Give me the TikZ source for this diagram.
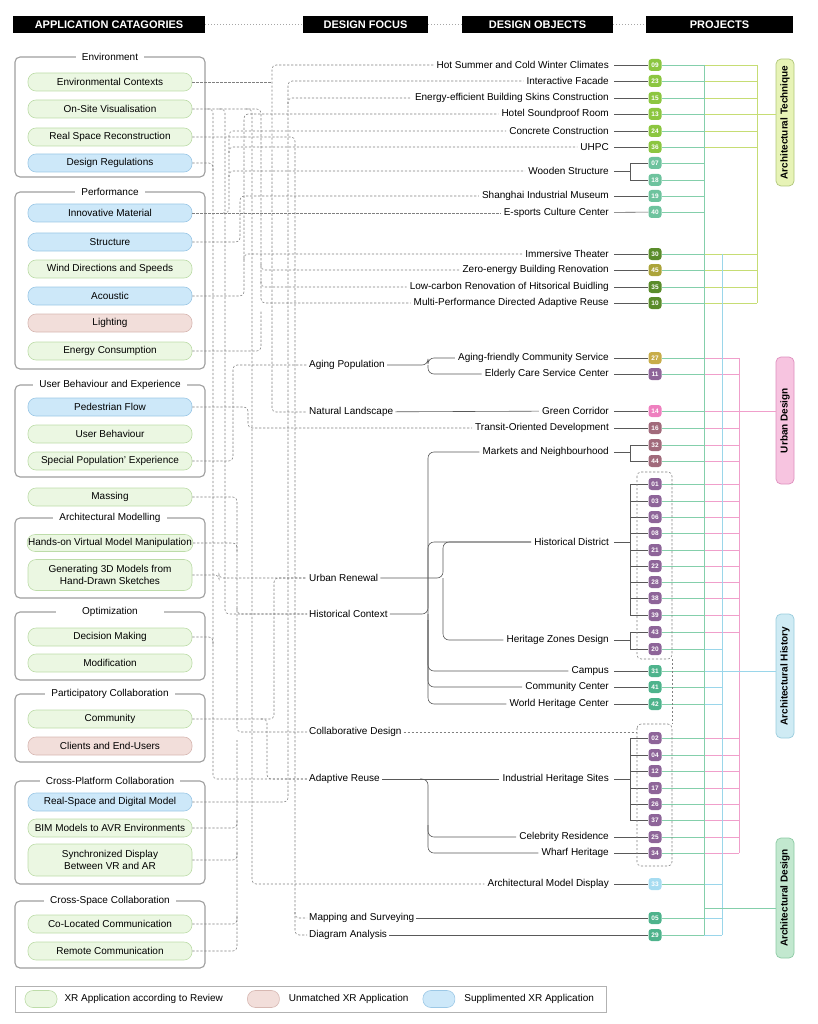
\documentclass[tikz,border=0pt]{standalone}
\usepackage{fontspec}
\setmainfont{Liberation Sans}
\usetikzlibrary{calc,positioning}

\definecolor{pgfill}{HTML}{EBF7E2}
\definecolor{pgline}{HTML}{BDDCA9}
\definecolor{pbfill}{HTML}{CDE8F9}
\definecolor{pbline}{HTML}{9CC8E6}
\definecolor{prfill}{HTML}{F2DEDA}
\definecolor{prline}{HTML}{D7B8B2}
\definecolor{bgreen}{HTML}{8CC640}
\definecolor{bteal}{HTML}{6EC39E}
\definecolor{bdark}{HTML}{5A8C2B}
\definecolor{bolive}{HTML}{ACA43A}
\definecolor{bgold}{HTML}{C8AD4A}
\definecolor{bpurple}{HTML}{8E6599}
\definecolor{bpink}{HTML}{EE80BF}
\definecolor{bmauve}{HTML}{A16A7B}
\definecolor{bsea}{HTML}{4EB38C}
\definecolor{bsky}{HTML}{A6DCF1}
\definecolor{lnD}{HTML}{84CFAB}
\definecolor{lnH}{HTML}{9AD6EA}
\definecolor{lnU}{HTML}{F09FCB}
\definecolor{lnT}{HTML}{C6DD74}
\definecolor{catT}{HTML}{E7F3B6}
\definecolor{catTl}{HTML}{AFC67A}
\definecolor{catU}{HTML}{F7C4E0}
\definecolor{catUl}{HTML}{DE8FBE}
\definecolor{catH}{HTML}{CFEBF4}
\definecolor{catHl}{HTML}{99CCDD}
\definecolor{catD}{HTML}{C2E8CF}
\definecolor{catDl}{HTML}{8CCAA3}

\begin{document}
\begin{tikzpicture}[x=1pt, y=-1pt, font=\fontsize{10}{12}\selectfont,
    head/.style={fill=black, text=white, font=\fontsize{11}{13}\selectfont\bfseries,
      minimum height=17pt, inner sep=0pt},
    grp/.style={draw=black!38, line width=1.1pt, rounded corners=5pt},
    grptitle/.style={fill=white, inner xsep=6pt, inner ysep=1pt},
    pill/.style={rounded corners=8pt, minimum width=164pt, minimum height=18pt,
      inner sep=1pt, align=center, line width=0.6pt},
    gpill/.style={pill, fill=pgfill, draw=pgline},
    bpill/.style={pill, fill=pbfill, draw=pbline},
    rpill/.style={pill, fill=prfill, draw=prline},
    focus/.style={anchor=west, inner sep=2pt},
    obj/.style={anchor=east, inner sep=3pt},
    badge/.style={fill=#1, rounded corners=3pt, minimum width=13pt, minimum height=12pt,
      inner sep=0pt, text=white, font=\fontsize{6.5}{6.5}\selectfont\bfseries},
    cat/.style={rotate=90, rounded corners=5pt, minimum height=18pt, inner sep=0pt,
      font=\fontsize{10}{12}\selectfont\bfseries, line width=0.7pt},
    wire/.style={draw=black!65, line width=0.6pt},
    dashline/.style={draw=black!50, line width=0.55pt, dash pattern=on 2.2pt off 1.8pt,
      rounded corners=4pt},
    hdots/.style={draw=black!35, line width=1pt, dotted},
    bus/.style={line width=0.8pt}]

  \useasboundingbox (0,0) rectangle (817,1024);

  % headers
  \node[head, minimum width=192pt] (hac) at (109,24.5) {APPLICATION CATAGORIES};
  \node[head, minimum width=125pt] (hdf) at (365.5,24.5) {DESIGN FOCUS};
  \node[head, minimum width=151pt] (hdo) at (537.5,24.5) {DESIGN OBJECTS};
  \node[head, minimum width=147pt] (hpr) at (719.5,24.5) {PROJECTS};
  \draw[hdots] (hac) -- (hdf);
  \draw[hdots] (hdf) -- (hdo);
  \draw[hdots] (hdo) -- (hpr);

  % application groups
  \draw[grp] (15,57) rectangle (205,177);
  \node[grptitle] (tenv) at (110,57) {Environment};
  \draw[grp] (15,192) rectangle (205,369);
  \node[grptitle] (tper) at (110,192) {Performance};
  \draw[grp] (15,385) rectangle (205,477);
  \node[grptitle] (tusr) at (110,385) {User Behaviour and Experience};
  \draw[grp] (15,518) rectangle (205,598);
  \node[grptitle] (tmod) at (110,518) {Architectural Modelling};
  \draw[grp] (15,612) rectangle (205,680);
  \node[grptitle, minimum width=108pt] (topt) at (110,612) {Optimization};
  \draw[grp] (15,694) rectangle (205,762);
  \node[grptitle] (tpar) at (110,694) {Participatory Collaboration};
  \draw[grp] (15,781) rectangle (205,884);
  \node[grptitle] (tcpf) at (110,781) {Cross-Platform Collaboration};
  \draw[grp] (15,901) rectangle (205,968);
  \node[grptitle] (tcsp) at (110,901) {Cross-Space Collaboration};

  \node[gpill] (envctx) at (110,82) {Environmental Contexts};
  \node[gpill] (onsite) at (110,109) {On-Site Visualisation};
  \node[gpill] (rsr) at (110,137) {Real Space Reconstruction};
  \node[bpill] (dreg) at (110,163) {Design Regulations};
  \node[bpill] (innov) at (110,213) {Innovative Material};
  \node[bpill] (struct) at (110,242) {Structure};
  \node[gpill] (wind) at (110,269) {Wind Directions and Speeds};
  \node[bpill] (acou) at (110,296) {Acoustic};
  \node[rpill] (light) at (110,323) {Lighting};
  \node[gpill] (energy) at (110,351) {Energy Consumption};
  \node[bpill] (ped) at (110,407) {Pedestrian Flow};
  \node[gpill] (ub) at (110,434) {User Behaviour};
  \node[gpill] (spe) at (110,461) {Special Population' Experience};
  \node[gpill] (mass) at (110,497) {Massing};
  \node[gpill, minimum height=17pt] (hov) at (110,543) {Hands-on Virtual Model Manipulation};
  \node[gpill, minimum height=31pt] (gen) at (110,575) {Generating 3D Models from\\Hand-Drawn Sketches};
  \node[gpill] (dm) at (110,637) {Decision Making};
  \node[gpill] (mod) at (110,663) {Modification};
  \node[gpill] (comm) at (110,719) {Community};
  \node[rpill] (cli) at (110,746) {Clients and End-Users};
  \node[bpill] (rsdm) at (110,802) {Real-Space and Digital Model};
  \node[gpill] (bim) at (110,828) {BIM Models to AVR Environments};
  \node[gpill, minimum height=32pt] (sync) at (110,860) {Synchronized Display\\Between VR and AR};
  \node[gpill] (colo) at (110,924) {Co-Located Communication};
  \node[gpill] (remote) at (110,951) {Remote Communication};

  % design focus
  \node[focus] (agp) at (307,365) {Aging Population};
  \node[focus] (natl) at (307,412) {Natural Landscape};
  \node[focus] (ur) at (307,578) {Urban Renewal};
  \node[focus] (hc) at (307,614) {Historical Context};
  \node[focus] (cd) at (307,732) {Collaborative Design};
  \node[focus] (ar) at (307,779) {Adaptive Reuse};
  \node[focus] (ms) at (307,918) {Mapping and Surveying};
  \node[focus] (da) at (307,935) {Diagram Analysis};

  % design objects
  \node[obj] (hot) at (612,65) {Hot Summer and Cold Winter Climates};
  \node[obj] (ifac) at (612,81) {Interactive Facade};
  \node[obj] (eeb) at (612,98) {Energy-efficient Building Skins Construction};
  \node[obj] (hsr) at (612,114) {Hotel Soundproof Room};
  \node[obj] (conc) at (612,131) {Concrete Construction};
  \node[obj] (uhpc) at (612,147) {UHPC};
  \node[obj] (wood) at (612,171) {Wooden Structure};
  \node[obj] (sim) at (612,196) {Shanghai Industrial Museum};
  \node[obj] (esp) at (612,213) {E-sports Culture Center};
  \node[obj] (imm) at (612,254) {Immersive Theater};
  \node[obj] (zero) at (612,270) {Zero-energy Building Renovation};
  \node[obj] (lowc) at (612,287) {Low-carbon Renovation of Hitsorical Buidling};
  \node[obj] (mpar) at (612,303) {Multi-Performance Directed Adaptive Reuse};
  \node[obj] (afc) at (612,358) {Aging-friendly Community Service};
  \node[obj] (ecs) at (612,374) {Elderly Care Service Center};
  \node[obj] (gcor) at (612,411) {Green Corridor};
  \node[obj] (tod) at (612,428) {Transit-Oriented Development};
  \node[obj] (mkt) at (612,452) {Markets and Neighbourhood};
  \node[obj] (hdis) at (612,542) {Historical District};
  \node[obj] (hzd) at (612,640) {Heritage Zones Design};
  \node[obj] (camp) at (612,671) {Campus};
  \node[obj] (comc) at (612,687) {Community Center};
  \node[obj] (whc) at (612,704) {World Heritage Center};
  \node[obj] (ihs) at (612,779) {Industrial Heritage Sites};
  \node[obj] (celr) at (612,837) {Celebrity Residence};
  \node[obj] (wharf) at (612,853) {Wharf Heritage};
  \node[obj] (amd) at (612,884) {Architectural Model Display};

  % project badges
  \foreach \n/\y/\c in {09/65/bgreen, 23/81/bgreen, 15/98/bgreen, 13/114/bgreen,
      24/131/bgreen, 36/147/bgreen, 07/163/bteal, 18/180/bteal, 19/196/bteal,
      40/212/bteal, 30/254/bdark, 45/270/bolive, 35/287/bdark, 10/303/bdark,
      27/358/bgold, 11/374/bpurple, 14/411/bpink, 16/428/bmauve, 32/445/bmauve,
      44/461/bmauve, 01/484/bpurple, 03/501/bpurple, 06/517/bpurple, 08/533/bpurple,
      21/550/bpurple, 22/566/bpurple, 28/582/bpurple, 38/598/bpurple, 39/615/bpurple,
      43/632/bpurple, 20/649/bpurple, 31/671/bsea, 41/687/bsea, 42/704/bsea,
      02/738/bpurple, 04/755/bpurple, 12/771/bpurple, 17/788/bpurple, 26/804/bpurple,
      37/820/bpurple, 25/837/bpurple, 34/853/bpurple, 33/884/bsky, 05/918/bsea,
      29/935/bsea}
    \node[badge=\c] (b\n) at (655,\y) {\n};

  % categories
  \node[cat, fill=catT, draw=catTl, minimum width=127pt] (ctech) at (785,122.5) {Architectural Technique};
  \node[cat, fill=catU, draw=catUl, minimum width=127pt] (curb) at (785,420.5) {Urban Design};
  \node[cat, fill=catH, draw=catHl, minimum width=124pt] (chis) at (785,676) {Architectural History};
  \node[cat, fill=catD, draw=catDl, minimum width=120pt] (cdes) at (785,898) {Architectural Design};

  % buses
  \coordinate (bd) at (704,0);
  \coordinate (bh) at (722,0);
  \coordinate (bu) at (739,0);
  \coordinate (bt) at (757,0);
  \foreach \n/\e/\c in {09/bt/lnT, 23/bt/lnT, 15/bt/lnT, 13/bt/lnT, 24/bt/lnT, 36/bt/lnT,
      07/bd/lnD, 18/bd/lnD, 19/bd/lnD, 40/bd/lnD, 30/bt/lnT, 45/bt/lnT, 35/bt/lnT,
      10/bt/lnT, 27/bu/lnU, 11/bu/lnU, 14/bu/lnU, 16/bu/lnU, 32/bu/lnU, 44/bu/lnU,
      01/bu/lnU, 03/bu/lnU, 06/bu/lnU, 08/bu/lnU, 21/bu/lnU, 22/bu/lnU, 28/bu/lnU,
      38/bu/lnU, 39/bu/lnU, 43/bu/lnU, 20/bh/lnH, 31/bh/lnH, 41/bh/lnH, 42/bh/lnH,
      02/bu/lnU, 04/bu/lnU, 12/bu/lnU, 17/bu/lnU, 26/bu/lnU, 37/bu/lnU, 25/bu/lnU,
      34/bu/lnU, 33/bh/lnH, 05/bh/lnH, 29/bh/lnH} {
    \draw[bus, lnD] (b\n.east) -- (b\n.east -| bd);
    \draw[bus, \c] (b\n.east -| bd) -- (b\n.east -| \e);
  }
  \draw[bus, lnD] (bd |- b09.east) -- (bd |- b29.east);
  \draw[bus, lnH] (bh |- b30.east) -- (bh |- b29.east);
  \draw[bus, lnU] (bu |- b27.east) -- (bu |- b34.east);
  \draw[bus, lnT] (bt |- b09.east) -- (bt |- b10.east);
  \coordinate (jT) at (757,114);
  \coordinate (jU) at (739,411);
  \coordinate (jH) at (722,671);
  \coordinate (jD) at (704,908);
  \draw[bus, lnT] (jT) -- (jT -| ctech.north);
  \draw[bus, lnU] (jU) -- (jU -| curb.north);
  \draw[bus, lnH] (jH) -- (jH -| chis.north);
  \draw[bus, lnD] (jD) -- (jD -| cdes.north);

  % objects to projects
  \foreach \o/\b in {hot/09, ifac/23, eeb/15, hsr/13, conc/24, uhpc/36, sim/19, esp/40,
      imm/30, zero/45, lowc/35, mpar/10, afc/27, ecs/11, gcor/14, tod/16, camp/31,
      comc/41, whc/42, celr/25, wharf/34, amd/33}
    \draw[wire, shorten <=2pt] (\o) -- (b\b);
  \coordinate (k630) at (630,0);
  \draw[wire, shorten <=2pt] (wood.east) -- (k630 |- wood.east);
  \draw[wire] (b07.west) -- (k630 |- b07.west) -- (k630 |- b18.west) -- (b18.west);
  \draw[wire, shorten <=2pt] (mkt.east) -- (k630 |- mkt.east);
  \draw[wire] (b32.west) -- (k630 |- b32.west) -- (k630 |- b44.west) -- (b44.west);
  \draw[wire, shorten <=2pt] (hdis.east) -- (k630 |- hdis.east);
  \draw[wire] (k630 |- b01.west) -- (k630 |- b39.west);
  \foreach \b in {01,03,06,08,21,22,28,38,39}
    \draw[wire] (k630 |- b\b.west) -- (b\b.west);
  \draw[wire, shorten <=2pt] (hzd.east) -- (k630 |- hzd.east);
  \draw[wire] (b43.west) -- (k630 |- b43.west) -- (k630 |- b20.west) -- (b20.west);
  \draw[wire, shorten <=2pt] (ihs.east) -- (k630 |- ihs.east);
  \draw[wire] (k630 |- b02.west) -- (k630 |- b37.west);
  \foreach \b in {02,04,12,17,26,37}
    \draw[wire] (k630 |- b\b.west) -- (b\b.west);

  % dashed groups of projects
  \draw[dashline] (637,472) rectangle (672,659);
  \draw[dashline] (637,724) rectangle (672,866);
  \draw[dashline] (672,659) -- (672,724);
  \coordinate (boxB) at (637,732);
  \draw[dashline] (cd) -- (boxB);

  % focus to objects
  \draw[wire, rounded corners=6pt] (agp) -- (428,365) |- (afc);
  \draw[wire, rounded corners=6pt] (428,365) |- (ecs);
  \draw[wire] (natl) -- (gcor);
  \draw[wire, rounded corners=6pt] (ur) -- (443,578) |- (hdis);
  \draw[wire, rounded corners=6pt] (443,578) |- (hzd);
  \draw[wire, rounded corners=6pt] (hc) -- (428,614) |- (mkt);
  \draw[wire, rounded corners=6pt] (428,614) |- (whc);
  \foreach \t in {hdis,camp,comc}
    \draw[wire, rounded corners=6pt] (428,620) |- (\t);
  \draw[wire] (ar) -- (ihs);
  \draw[wire, rounded corners=6pt] (420,779) -| (428,800) |- (wharf);
  \draw[wire, rounded corners=6pt] (428,825) |- (celr);
  \draw[wire] (ms) -- (b05);
  \draw[wire] (da) -- (b29);

  % applications to focus and objects
  \foreach \v in {213,219,225,229,233,237,240,244,248,252,261,267,272,274,288,295}
    \coordinate (v\v) at (\v,0);
  % environment
  \draw[dashline] (hot.west) -| (v272 |- natl.west) -- (natl.west);
  \draw[dashline] (envctx.east) -- (v272 |- envctx.east);
  \draw[dashline] (onsite.east) -| (v261 |- mpar.west) -- (mpar.west);
  \foreach \t in {zero,lowc}
    \draw[dashline] ($(v261 |- \t.west)+(0,-6)$) |- (\t.west);
  \draw[dashline] ($(v213 |- onsite.east)+(-6,0)$) -| (v213 |- ar.west) -- (ar.west);
  \draw[dashline] ($(v225 |- onsite.east)+(-6,0)$) -| (v225 |- hc.west) -- (hc.west);
  \draw[dashline] ($(v252 |- onsite.east)+(-6,0)$) -| (v252 |- amd.west) -- (amd.west);
  \draw[dashline] (rsr.east) -| (v295 |- da.west) -- (da.west);
  \draw[dashline] ($(v295 |- ms.west)+(0,-6)$) |- (ms.west);
  \draw[dashline] (dreg.east) -| ($(v213 |- dreg.east)+(0,8)$);
  % performance
  \draw[dashline] (innov.east) -- (esp.west);
  \draw[dashline] ($(v229 |- innov.east)+(-6,0)$) -| (v229 |- conc.west) -- (conc.west);
  \foreach \t in {uhpc,wood}
    \draw[dashline] ($(v229 |- \t.west)+(0,6)$) |- (\t.west);
  \draw[dashline] (struct.east) -| (v240 |- sim.west) -- (sim.west);
  \draw[dashline] (acou.east) -| (v244 |- hsr.west) -- (hsr.west);
  \draw[dashline] ($(v244 |- imm.west)+(0,6)$) |- (imm.west);
  \draw[dashline] (energy.east) -| ($(v261 |- mpar.west)+(0,8)$);
  % user behaviour
  \draw[dashline] (ped.east) -| (v248 |- tod.west) -- (tod.west);
  \draw[dashline] (spe.east) -| (v233 |- agp.west) -- (agp.west);
  % modelling and optimization
  \draw[dashline] (mass.east) -| (v237 |- cd.west) -- (cd.west);
  \draw[dashline] ($(v237 |- hc.west)+(0,-6)$) |- (hc.west);
  \draw[dashline] (hov.east) -| ($(v237 |- hov.east)+(0,8)$);
  \draw[dashline] (gen.east) -| (v219 |- ur.west) -- (ur.west);
  \draw[dashline] (dm.east) -| ($(v213 |- dm.east)+(0,8)$);
  % collaboration
  \draw[dashline] (comm.east) -| (v274 |- ur.west) -- (ur.west);
  \draw[dashline] ($(v267 |- comm.east)+(-6,0)$) -| (v267 |- ar.west) -- (ar.west);
  \draw[dashline] (rsdm.east) -| (v288 |- ifac.west) -- (ifac.west);
  \draw[dashline] ($(v288 |- eeb.west)+(0,6)$) |- (eeb.west);
  \foreach \s in {bim,sync,colo}
    \draw[dashline] (\s.east) -| ($(v237 |- \s.east)+(0,-8)$);
  \draw[dashline] (remote.east) -| ($(v237 |- cd.west)+(0,8)$);

  % legend
  \draw[draw=black!30, line width=0.6pt] (15,986) rectangle (606,1012);
  \node[gpill, minimum width=32pt, minimum height=17pt] (lgg) at (41,999) {};
  \node[right=7pt of lgg, inner sep=0pt] (ltg) {XR Application according to Review};
  \node[rpill, minimum width=32pt, minimum height=17pt, right=24pt of ltg] (lgr) {};
  \node[right=9pt of lgr, inner sep=0pt] (ltr) {Unmatched XR Application};
  \node[bpill, minimum width=32pt, minimum height=17pt, right=14pt of ltr] (lgb) {};
  \node[right=9pt of lgb, inner sep=0pt] (ltb) {Supplimented XR Application};
\end{tikzpicture}
\end{document}
